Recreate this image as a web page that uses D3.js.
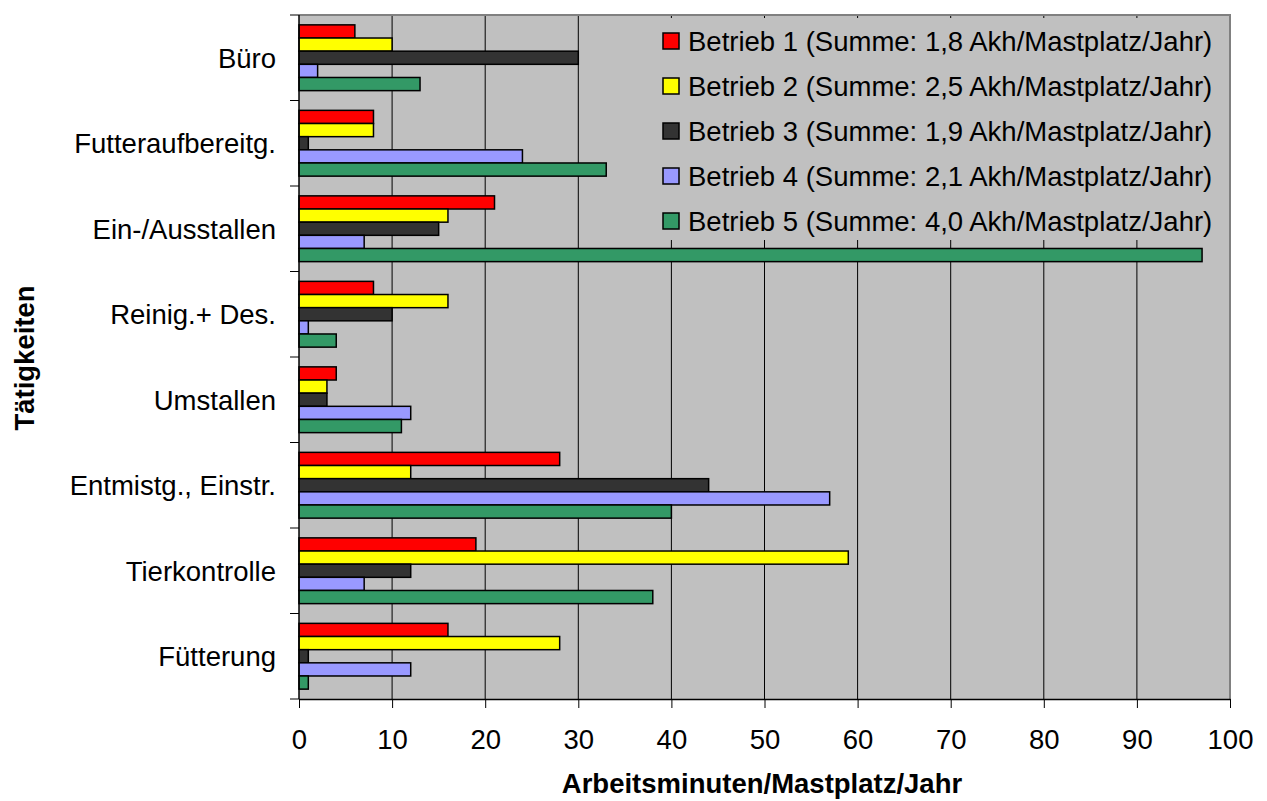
<!DOCTYPE html>
<html><head><meta charset="utf-8">
<script src="https://cdn.jsdelivr.net/npm/d3@7"></script>
<style>body{margin:0;background:#fff}svg{display:block}text{font-family:"Liberation Sans",Arial,sans-serif}</style>
</head><body>
<svg id="c" width="1267" height="801"></svg>
<script>
const categories = ["Büro","Futteraufbereitg.","Ein-/Ausstallen","Reinig.+ Des.","Umstallen","Entmistg., Einstr.","Tierkontrolle","Fütterung"];
const seriesNames = ["Betrieb 1 (Summe: 1,8 Akh/Mastplatz/Jahr)","Betrieb 2 (Summe: 2,5 Akh/Mastplatz/Jahr)","Betrieb 3 (Summe: 1,9 Akh/Mastplatz/Jahr)","Betrieb 4 (Summe: 2,1 Akh/Mastplatz/Jahr)","Betrieb 5 (Summe: 4,0 Akh/Mastplatz/Jahr)"];
const betrieb1 = [6, 8, 21, 8, 4, 28, 19, 16];
const betrieb2 = [10, 8, 16, 16, 3, 12, 59, 28];
const betrieb3 = [30, 1, 15, 10, 3, 44, 12, 1];
const betrieb4 = [2, 24, 7, 1, 12, 57, 7, 12];
const betrieb5 = [13, 33, 97, 4, 11, 40, 38, 1];
const colors = ["#FF0000","#FFFF00","#333333","#9999FF","#339966"];
const xTicks = [0,10,20,30,40,50,60,70,80,90,100];
const xTitle = "Arbeitsminuten/Mastplatz/Jahr";
const yTitle = "Tätigkeiten";

const values = [betrieb1, betrieb2, betrieb3, betrieb4, betrieb5];
const svg = d3.select("#c");
const L = 299, R = 1230, T = 15, B = 699;
const FS = 27.5;
const x = d3.scaleLinear().domain([0,100]).range([L,R]);
const y0 = d3.scaleBand().domain(categories).range([T,B]);
const bw = y0.bandwidth();
const pad = bw*0.75/6.5;
const y1 = d3.scaleBand().domain(d3.range(5)).range([pad, bw-pad]);

// plot background
svg.append("rect").attr("x",L).attr("y",T).attr("width",R-L).attr("height",B-T).attr("fill","#C0C0C0");
// grid
svg.append("g").selectAll("line").data(xTicks.slice(1)).join("line")
  .attr("x1",d=>x(d)).attr("x2",d=>x(d)).attr("y1",T).attr("y2",B)
  .attr("stroke","#000").attr("stroke-width",1);
// border top/right
svg.append("path").attr("d",`M${L},${T}H${R}V${B}`).attr("fill","none").attr("stroke","#808080").attr("stroke-width",2);

// legend (covers grid)
const lg = svg.append("g");
lg.append("rect").attr("x",650).attr("y",T+3).attr("width",576).attr("height",222).attr("fill","#C0C0C0");
seriesNames.forEach((s,i)=>{
  const cy = 41 + i*45;
  lg.append("rect").attr("x",663).attr("y",cy-8).attr("width",16).attr("height",16)
    .attr("fill",colors[i]).attr("stroke","#000").attr("stroke-width",1.5);
  lg.append("text").attr("x",688).attr("y",cy).attr("dy","0.36em").attr("font-size",FS).attr("fill","#000").text(s);
});

// bars
const g = svg.append("g");
categories.forEach((c,ci)=>{
  values.forEach((arr,si)=>{
    g.append("rect")
      .attr("x",x(0)).attr("y",y0(c)+y1(si))
      .attr("width",x(arr[ci])-x(0)).attr("height",y1.bandwidth())
      .attr("fill",colors[si]).attr("stroke","#000").attr("stroke-width",1.5);
  });
});

// x axis
const xa = svg.append("g").attr("transform",`translate(0,${B})`)
  .call(d3.axisBottom(x).tickValues(xTicks).tickSize(9).tickPadding(21).tickSizeOuter(0));
xa.select(".domain").attr("stroke","#000").attr("stroke-width",1.5);
xa.selectAll("text").attr("font-size",FS).attr("fill","#000").attr("font-family","Liberation Sans, Arial, sans-serif");
xa.selectAll(".tick line").attr("stroke","#000");

// y axis
const ya = svg.append("g").attr("transform",`translate(${L},0)`);
ya.append("line").attr("x1",0).attr("x2",0).attr("y1",T).attr("y2",B).attr("stroke","#000").attr("stroke-width",1.5);
const bounds = categories.map(c=>y0(c)).concat([B]);
ya.selectAll("line.t").data(bounds).join("line").attr("class","t")
  .attr("x1",-9).attr("x2",0).attr("y1",d=>d).attr("y2",d=>d).attr("stroke","#000");
ya.selectAll("text").data(categories).join("text")
  .attr("x",-23).attr("y",d=>y0(d)+bw/2).attr("dy","0.36em").attr("text-anchor","end")
  .attr("font-size",FS).attr("fill","#000").text(d=>d);

// titles
svg.append("text").attr("x",762).attr("y",793).attr("text-anchor","middle")
  .attr("font-size",FS).attr("font-weight","bold").text(xTitle);
svg.append("text").attr("transform","translate(24,358) rotate(-90)").attr("dy","0.36em").attr("text-anchor","middle")
  .attr("font-size",FS).attr("font-weight","bold").text(yTitle);
</script>
</body></html>
